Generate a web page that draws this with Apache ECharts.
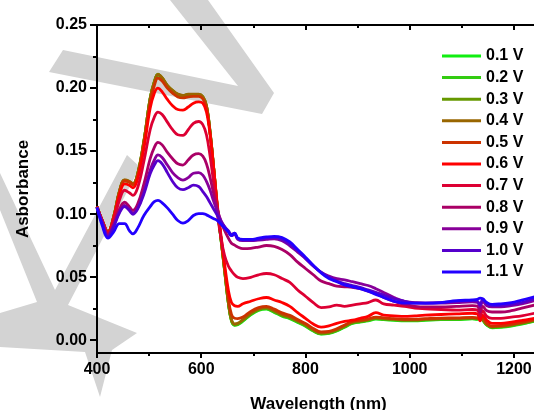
<!DOCTYPE html>
<html>
<head>
<meta charset="utf-8">
<script src="https://cdn.jsdelivr.net/npm/echarts@6/dist/echarts.min.js"></script>
<style>
  html, body { margin: 0; padding: 0; background: #fff; }
  #main { width: 534px; height: 410px; }
</style>
</head>
<body>
<div id="main"></div>
<script>
// wavelength grid (nm)
var wavelength = [400, 410, 421, 432, 443, 453, 462, 469, 478, 490, 502, 510, 517, 525, 535, 545, 555, 565, 575, 585,
  595, 603, 610, 617, 624, 631, 638, 645, 652, 658, 664, 670, 680, 695, 710, 725, 740, 755, 770, 785,
  800, 815, 830, 845, 860, 875, 890, 905, 920, 935, 950, 970, 990, 1010, 1030, 1060, 1090, 1120, 1130, 1135,
  1140, 1148, 1158, 1175, 1195, 1215, 1240];

// absorbance per applied potential
var a01 = [0.1055,0.0945,0.0855,0.0975,0.1175,0.1265,0.1255,0.1235,0.1315,0.1575,0.1915,0.2045,0.2105,0.2075,0.2015,0.1975,0.1945,0.1935,0.1945,0.1945,
  0.1945,0.1925,0.1855,0.1645,0.1355,0.1045,0.0795,0.0545,0.0295,0.0155,0.012,0.0125,0.0152,0.0202,0.0237,0.0247,0.0222,0.0192,0.0172,0.0142,
  0.0112,0.0074,0.005,0.0055,0.0075,0.0104,0.0134,0.0145,0.0155,0.0168,0.0164,0.0159,0.0154,0.0154,0.0159,0.0164,0.0165,0.017,0.0167,0.0183,
  0.016,0.012,0.01,0.0104,0.0114,0.0129,0.0152];
var a02 = [0.106,0.0948,0.0858,0.0978,0.1178,0.1268,0.1258,0.1238,0.1318,0.1578,0.1918,0.2048,0.2108,0.2078,0.2018,0.1978,0.1948,0.1938,0.1948,0.1948,
  0.1948,0.1928,0.1858,0.1648,0.1358,0.1048,0.0798,0.0548,0.0298,0.0157,0.0122,0.0127,0.0156,0.0206,0.0241,0.0251,0.0226,0.0196,0.0176,0.0146,
  0.0116,0.0077,0.0052,0.0057,0.0077,0.0107,0.0137,0.0148,0.0158,0.0172,0.0167,0.0162,0.0157,0.0157,0.0162,0.0167,0.0168,0.0172,0.0169,0.0186,
  0.0162,0.0122,0.0102,0.0107,0.0117,0.0132,0.0155];
var a03 = [0.106,0.095,0.086,0.098,0.118,0.127,0.126,0.124,0.132,0.158,0.192,0.205,0.211,0.208,0.202,0.198,0.195,0.194,0.195,0.195,
  0.195,0.193,0.186,0.165,0.136,0.105,0.080,0.055,0.030,0.016,0.0125,0.013,0.016,0.021,0.0245,0.0255,0.023,0.020,0.018,0.015,
  0.012,0.008,0.0055,0.006,0.008,0.011,0.014,0.015,0.016,0.0175,0.017,0.0165,0.016,0.016,0.0165,0.017,0.017,0.0175,0.0172,0.019,
  0.0165,0.0125,0.0105,0.011,0.012,0.0135,0.0158];
var a04 = [0.106,0.0952,0.0862,0.0982,0.1182,0.1272,0.1262,0.1242,0.1322,0.1582,0.1918,0.2048,0.2108,0.2082,0.2022,0.1982,0.1952,0.1942,0.1952,0.1952,
  0.1952,0.1932,0.1862,0.1655,0.1365,0.1055,0.0805,0.0555,0.0305,0.0165,0.013,0.0135,0.0165,0.0215,0.025,0.026,0.0235,0.0205,0.0185,0.0155,
  0.0125,0.0085,0.006,0.0065,0.0085,0.0115,0.0145,0.0155,0.0165,0.0178,0.0174,0.0168,0.0163,0.0163,0.0168,0.0173,0.0174,0.0178,0.0175,0.0193,
  0.0168,0.0128,0.0108,0.0113,0.0123,0.0138,0.0161];
var a05 = [0.106,0.095,0.0862,0.0978,0.1175,0.1265,0.1255,0.1235,0.131,0.1565,0.189,0.202,0.208,0.2055,0.2,0.196,0.193,0.1922,0.193,0.1935,
  0.1935,0.1915,0.1848,0.1645,0.136,0.1055,0.0805,0.0565,0.033,0.0205,0.0175,0.0172,0.0185,0.023,0.026,0.027,0.0248,0.0218,0.0198,0.0165,
  0.0135,0.0095,0.0068,0.0072,0.0092,0.0122,0.015,0.016,0.017,0.0185,0.0178,0.0172,0.0167,0.0168,0.0172,0.0177,0.0178,0.0182,0.0178,0.0165,
  0.0182,0.0135,0.0113,0.0118,0.0128,0.0143,0.0166];
var a06 = [0.106,0.095,0.0855,0.097,0.115,0.124,0.123,0.121,0.128,0.152,0.184,0.196,0.2,0.197,0.191,0.186,0.183,0.1825,0.185,0.188,
  0.189,0.188,0.181,0.163,0.136,0.107,0.083,0.06,0.04,0.03,0.0275,0.027,0.029,0.031,0.033,0.034,0.032,0.03,0.027,0.022,
  0.0175,0.013,0.0105,0.0115,0.0135,0.015,0.016,0.0175,0.019,0.022,0.02,0.0195,0.019,0.0195,0.02,0.0205,0.021,0.0215,0.021,0.0155,
  0.02,0.016,0.0135,0.0135,0.0145,0.0158,0.0175];
var a07 = [0.106,0.095,0.085,0.095,0.111,0.119,0.117,0.115,0.121,0.142,0.167,0.177,0.181,0.179,0.173,0.167,0.163,0.1625,0.167,0.172,
  0.1735,0.171,0.163,0.146,0.124,0.1,0.081,0.067,0.059,0.055,0.052,0.05,0.049,0.05,0.052,0.053,0.052,0.049,0.046,0.04,
  0.035,0.03,0.026,0.0265,0.028,0.027,0.028,0.029,0.03,0.032,0.029,0.028,0.027,0.0255,0.025,0.0245,0.024,0.0245,0.024,0.019,
  0.0235,0.019,0.0175,0.0175,0.0185,0.0195,0.0215];
var a08 = [0.1055,0.094,0.084,0.092,0.104,0.1095,0.106,0.103,0.108,0.124,0.144,0.153,0.157,0.155,0.149,0.144,0.14,0.139,0.143,0.147,
  0.148,0.146,0.14,0.129,0.116,0.104,0.094,0.087,0.081,0.077,0.0755,0.074,0.0728,0.073,0.074,0.0752,0.0745,0.072,0.068,0.062,
  0.057,0.052,0.047,0.045,0.043,0.0425,0.042,0.041,0.039,0.037,0.034,0.031,0.0285,0.027,0.0265,0.0265,0.027,0.0275,0.027,0.0225,
  0.027,0.0235,0.0225,0.0225,0.0235,0.0255,0.028];
var a09 = [0.1055,0.094,0.083,0.091,0.102,0.107,0.104,0.101,0.105,0.118,0.135,0.143,0.147,0.145,0.139,0.133,0.129,0.127,0.129,0.1325,
  0.133,0.131,0.126,0.119,0.11,0.102,0.095,0.09,0.086,0.083,0.084,0.08,0.079,0.079,0.0795,0.08,0.0805,0.079,0.075,0.07,
  0.065,0.059,0.054,0.051,0.049,0.048,0.0465,0.045,0.0435,0.041,0.038,0.034,0.031,0.03,0.0295,0.0295,0.03,0.0305,0.03,0.0265,
  0.031,0.0275,0.0265,0.0265,0.0275,0.029,0.0315];
var a10 = [0.1055,0.093,0.082,0.09,0.101,0.106,0.103,0.1,0.104,0.116,0.132,0.139,0.1425,0.14,0.133,0.126,0.121,0.1195,0.121,0.123,
  0.122,0.118,0.114,0.109,0.104,0.099,0.094,0.09,0.087,0.084,0.085,0.081,0.0795,0.0795,0.08,0.081,0.0815,0.08,0.076,0.071,
  0.065,0.059,0.054,0.05,0.047,0.045,0.0435,0.042,0.04,0.038,0.036,0.033,0.031,0.0295,0.0295,0.03,0.031,0.0315,0.031,0.028,
  0.0325,0.029,0.0275,0.0275,0.0285,0.03,0.033];
var a11 = [0.105,0.091,0.081,0.086,0.0925,0.0925,0.087,0.0845,0.089,0.099,0.106,0.11,0.111,0.109,0.105,0.1,0.095,0.093,0.095,0.099,
  0.1005,0.1005,0.0995,0.098,0.0965,0.095,0.092,0.089,0.086,0.083,0.085,0.081,0.08,0.08,0.081,0.082,0.0825,0.0815,0.078,0.072,
  0.066,0.0595,0.0535,0.049,0.0465,0.044,0.0425,0.041,0.039,0.0365,0.034,0.031,0.0295,0.0295,0.0295,0.03,0.0315,0.032,0.0325,0.0335,
  0.033,0.03,0.0285,0.029,0.03,0.032,0.0345];

var names = ['0.1 V', '0.2 V', '0.3 V', '0.4 V', '0.5 V', '0.6 V', '0.7 V', '0.8 V', '0.9 V', '1.0 V', '1.1 V'];
var colors = ['#11ee11', '#33cc11', '#669900', '#996600', '#cc3300', '#ff0000', '#dd0033', '#aa0066', '#880099', '#5500cc', '#2200ff'];
var values = [a01, a02, a03, a04, a05, a06, a07, a08, a09, a10, a11];

var font = '"Liberation Sans", Arial, sans-serif';
var gray = '#d3d3d3';

var chart = echarts.init(document.getElementById('main'), null, { renderer: 'canvas' });

var series = names.map(function (n, i) {
  return {
    name: n,
    type: 'line',
    xAxisIndex: 0,
    yAxisIndex: 0,
    symbol: 'none',
    smooth: 0.4,
    data: wavelength.map(function (w, j) { return [w, values[i][j]]; }),
    itemStyle: { color: colors[i] },
    lineStyle: { color: colors[i], width: 2.8 },
    z: 3
  };
});

var option = {
  backgroundColor: '#fff',
  animation: false,
  textStyle: { fontFamily: font },
  // watermark behind the plot
  graphic: [
    { type: 'polygon', silent: true, z: -10,
      shape: { points: [[49, 72], [63, 50], [238, 86], [170, 0], [208, 0], [274, 93], [262, 114]] },
      style: { fill: gray } },
    { type: 'polygon', silent: true, z: -10,
      shape: { points: [[0, 173], [55, 290], [127, 155], [140, 167], [68, 305], [137, 333], [112, 350],
        [100, 397], [85, 352], [0, 347], [0, 313], [37, 302], [0, 210]] },
      style: { fill: gray } }
  ],
  grid: [
    { left: 97, right: -6, top: 25, bottom: 57, containLabel: false, outerBoundsMode: 'none' },
    { left: 97, right: -6, top: 25, bottom: 69.8, containLabel: false, outerBoundsMode: 'none' }
  ],
  legend: {
    orient: 'vertical',
    left: 442,
    top: 48,
    padding: 0,
    itemWidth: 39,
    itemHeight: 3,
    itemGap: 5.6,
    icon: 'rect',
    data: names,
    textStyle: { fontFamily: font, fontSize: 16, fontWeight: 'bold', color: '#000' }
  },
  xAxis: [
    {
      gridIndex: 0, type: 'value', position: 'bottom', min: 400, max: 1250, interval: 200,
      name: 'Wavelength (nm)', nameLocation: 'middle', nameGap: 43,
      nameTextStyle: { fontFamily: font, fontSize: 17, fontWeight: 'bold', color: '#000' },
      axisLine: { onZero: false, lineStyle: { color: '#000', width: 2 } },
      axisTick: { inside: false, length: 5, lineStyle: { color: '#000', width: 2 } },
      axisLabel: {
        margin: 9, fontFamily: font, fontSize: 16, fontWeight: 'bold', color: '#000',
        formatter: function (v) { return v % 200 === 0 ? String(v) : ''; }
      },
      splitLine: { show: false }
    },
    {
      gridIndex: 0, type: 'value', position: 'bottom', min: 400, max: 1250, interval: 100,
      axisLine: { show: false, onZero: false },
      axisTick: { inside: false, length: 3, lineStyle: { color: '#000', width: 2 } },
      axisLabel: { show: false },
      splitLine: { show: false }
    },
    {
      gridIndex: 0, type: 'value', position: 'top', min: 400, max: 1250, interval: 200,
      axisLine: { onZero: false, lineStyle: { color: '#000', width: 2 } },
      axisTick: { inside: true, length: 5, lineStyle: { color: '#000', width: 2 } },
      axisLabel: { show: false },
      splitLine: { show: false }
    },
    {
      gridIndex: 0, type: 'value', position: 'top', min: 400, max: 1250, interval: 100,
      axisLine: { show: false, onZero: false },
      axisTick: { inside: true, length: 3, lineStyle: { color: '#000', width: 2 } },
      axisLabel: { show: false },
      splitLine: { show: false }
    },
    { gridIndex: 1, type: 'value', min: 400, max: 1250, show: false }
  ],
  yAxis: [
    {
      gridIndex: 0, type: 'value', min: -0.01, max: 0.25,
      name: 'Asborbance', nameLocation: 'middle', nameGap: 65,
      nameTextStyle: { fontFamily: font, fontSize: 17, fontWeight: 'bold', color: '#000' },
      axisLine: { show: true, onZero: false, lineStyle: { color: '#000', width: 2 } },
      axisTick: { show: false },
      axisLabel: { show: false },
      splitLine: { show: false }
    },
    {
      gridIndex: 1, type: 'value', min: 0, max: 0.25, interval: 0.05,
      axisLine: { show: false, onZero: false },
      axisTick: { show: true, inside: false, length: 7, lineStyle: { color: '#000', width: 2 } },
      minorTick: { show: true, splitNumber: 2, length: 4, lineStyle: { color: '#000', width: 2 } },
      axisLabel: {
        margin: 10, fontFamily: font, fontSize: 16, fontWeight: 'bold', color: '#000',
        formatter: function (v) { return v.toFixed(2); }
      },
      splitLine: { show: false }
    }
  ],
  series: series
};

chart.setOption(option);
</script>
</body>
</html>
